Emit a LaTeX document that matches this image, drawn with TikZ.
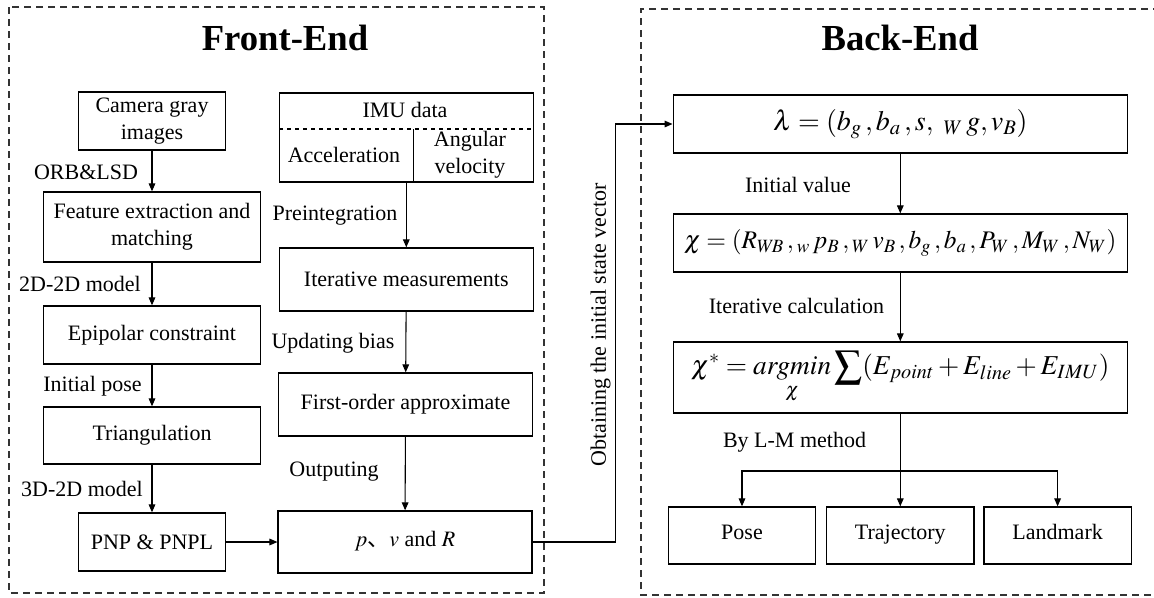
\documentclass[tikz,border=0pt]{standalone}
\usepackage{amssymb, mathtools, amsmath}
\usepackage{mathptmx}
\usepackage[no-math]{fontspec}
\setmainfont{Liberation Serif}
\newfontfamily\cjk{Noto Sans CJK SC}
\usetikzlibrary{arrows.meta}

\begin{document}
\begin{tikzpicture}[x=0.75pt,y=0.75pt,yscale=-1,xscale=1,
  every node/.style={font=\fontsize{16.5}{20}\selectfont, inner sep=0.75pt},
  blk/.style={draw, line width=1pt, align=center},
  frame/.style={draw=black!80, line width=0.8pt, dash pattern=on 5.5pt off 3.5pt},
  flow/.style={line width=0.8pt, -{Triangle[length=6pt,width=5pt]}},
  title/.style={font=\fontsize{27.5}{30}\selectfont\bfseries},
  eq/.style={font=\fontsize{19}{22}\selectfont},
  leaf/.style={blk, minimum width=110.5pt, minimum height=42.75pt, text height=2ex, text depth=0.6ex}]
\useasboundingbox (0,0) rectangle (1154,597);

%Dashed frames
\draw [frame] (9,7) rectangle (544,593);
\draw [frame] (1160,9) -- (641,9) -- (641,595) -- (1160,595);
\node [title] (fetitle) at (285,38) {Front-End};
\node [title] (betitle) at (900,38) {Back-End};

%Front-End, camera branch
\node [blk, minimum width=110.7pt, minimum height=43.5pt] (cam) at (152,121) {Camera gray\\images};
\node [blk, minimum width=162.6pt, minimum height=52.5pt] (feat) at (152,227) {Feature extraction and\\matching};
\node [blk, minimum width=162.6pt, minimum height=43.5pt] (epi) at (152,335) {Epipolar constraint};
\node [blk, minimum width=162.6pt, minimum height=42.75pt] (tri) at (152,435.5) {Triangulation};
\node [blk, minimum width=110.7pt, minimum height=43.5pt] (pnp) at (152,542) {PNP \& PNPL};

%Front-End, IMU branch
\node [blk, minimum width=190.6pt, minimum height=66.75pt] (imu) at (406.3,137.5) {};
\draw [dashed, line width=0.9pt] (279.3,129) -- (533.4,129);
\draw [line width=0.9pt] (413.6,129) -- (413.6,182);
\node (imudata) at (405,110) {IMU data};
\node (accel) at (344,155) {Acceleration};
\node [align=center] (angvel) at (470,155) {Angular\\velocity};
\node [blk, minimum width=190.6pt, minimum height=47.25pt] (iter) at (406.3,279.5) {Iterative measurements};
\node [blk, minimum width=190.5pt, minimum height=47.25pt] (first) at (405.5,404.5) {First-order approximate};
\node [blk, minimum width=190.35pt, minimum height=46.5pt, text height=2ex, text depth=0.6ex] (pvr) at (405,542) {$p${\cjk 、}$v$ and $R$};

% Text Node
\node (orb) at (86,172) {ORB\&LSD};
\node (m22) at (80,284) {2D-2D model};
\node (ipose) at (92.5,386) {Initial pose};
\node (m32) at (82,489) {3D-2D model};
\node (preint) at (335,216) {Preintegration};
\node (upbias) at (333,343) {Updating bias};
\node (outp) at (334,472) {Outputing};

%Straight Lines
\draw [flow] (cam) -- (feat);
\draw [flow] (feat) -- (epi);
\draw [flow] (epi) -- (tri);
\draw [flow] (tri) -- (pnp);
\draw [flow] (pnp) -- (pvr);
\draw [flow] (imu) -- (iter);
\draw [flow] (iter) -- (first);
\draw [flow] (first) -- (pvr);

%Back-End
\node [blk, minimum width=340.7pt, minimum height=43.5pt, font=\fontsize{21}{24}\selectfont] (lam) at (900.3,124)
  {$\lambda=(b_g\,,b_a\,,s,\ {}_W\,g,v_B)$};
\node [blk, minimum width=340.7pt, minimum height=43.5pt, eq] (chi) at (900.3,243)
  {$\chi=(R_{W\!B}\,,{}_w\,p_B\,,{}_W\,v_B\,,b_g\,,b_a\,,P_W\,,M_W\,,N_W)$};
\node [blk, minimum width=340.7pt, minimum height=53.25pt, font=\fontsize{20.5}{23}\selectfont] (chis) at (900.3,377.5)
  {$\displaystyle\chi^{*}=\mathop{\mathit{argmin}}\limits_{\chi}\sum(E_{point}+E_{line}+E_{IMU})$};
\node [leaf] (pose) at (742,535.5) {Pose};
\node [leaf] (traj) at (900.3,535.5) {Trajectory};
\node [leaf] (land) at (1057.6,535.5) {Landmark};

% Text Node
\node (ival) at (798,185) {Initial value};
\node (icalc) at (796.5,306) {Iterative calculation};
\node (lm) at (794.5,442) {By L-M method};
\node [rotate=90] (obtain) at (600.7,325) {Obtaining the initial state vector};

%Straight Lines
\coordinate (turn) at (615.2,542);
\coordinate (split) at (900.3,471);
\draw [flow] (pvr.east) -- (turn) |- (lam.west);
\draw [flow] (lam) -- (chi);
\draw [flow] (chi) -- (chis);
\draw [line width=0.8pt] (chis.south) -- (split);
\draw [flow] (split) -| (pose.north);
\draw [flow] (split) -- (traj.north);
\draw [flow] (split) -| (land.north);

\end{tikzpicture}
\end{document}
